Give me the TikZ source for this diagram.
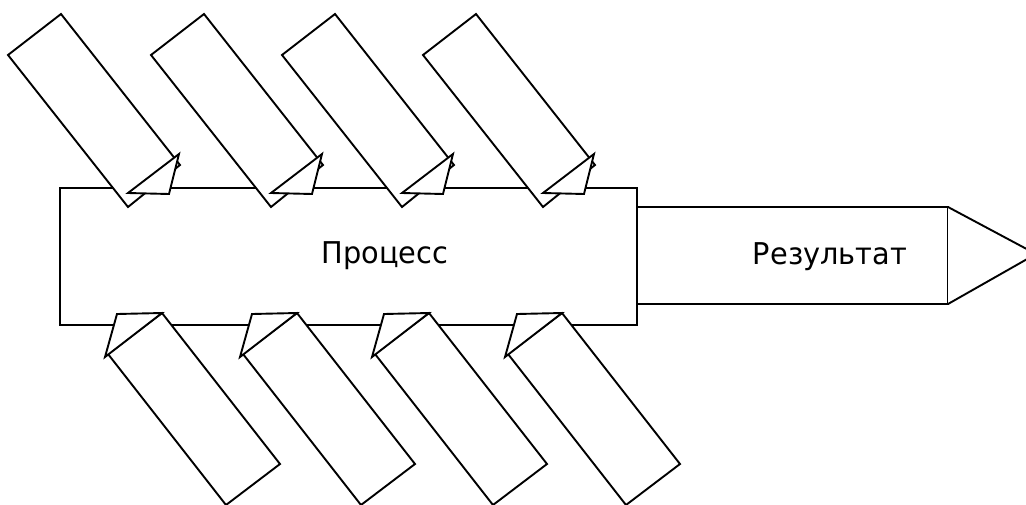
\documentclass[tikz,border=0pt]{standalone}
\usepackage{fontspec}
\setmainfont{DejaVu Sans}[FakeStretch=0.96]
\tikzset{
	bone/.style={draw=black, fill=white, line width=1.9pt, line join=miter},
	label/.style={font=\fontsize{30}{32}\selectfont, inner sep=0pt, anchor=base}
}
\begin{document}
\begin{tikzpicture}[x=1pt, y=-1pt]
	\useasboundingbox (0,0) rectangle (1026,504);
	\clip (0,0) rectangle (1026,504);
	% process and result
	\draw[bone] (60,188) rectangle (637,325);
	\draw[bone] (637,207) rectangle (948,304);
	\draw[bone] (948,207) -- (1036,254) -- (948,304);
	\node[label] (proc) at (385,263) {Процесс};
	\node[label] (res) at (830,264) {Результат};
	% upper bones
	\foreach \b in {128,271,402,543} {
		\filldraw[bone] (\b,207) -- ++(52,-42) -- ++(-119,-151) -- ++(-53,41) -- cycle;
		\filldraw[bone] (\b,193) -- ++(41,1) -- ++(10,-40) -- cycle;
	}
	% lower bones
	\foreach \t in {162,297,429,562} {
		\filldraw[bone] (\t,313) -- ++(118,151) -- ++(-54,41) -- ++(-118,-151) -- cycle;
		\filldraw[bone] (\t,313) -- ++(-57,44) -- ++(12,-43) -- cycle;
	}
\end{tikzpicture}
\end{document}
